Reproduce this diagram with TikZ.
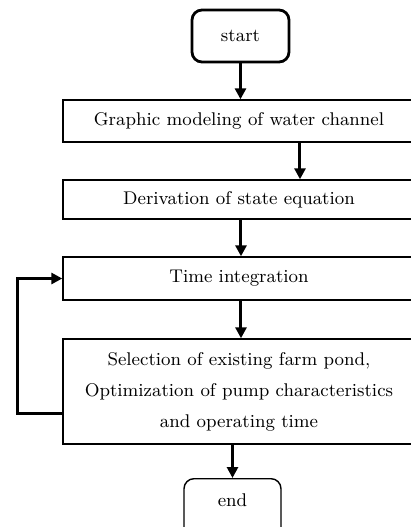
\documentclass[tikz,border=0pt]{standalone}
\usetikzlibrary{arrows.meta}
\begin{document}
\begin{tikzpicture}[
        x=0.5pt, y=-0.5pt,
        font=\fontsize{9.2}{15.5}\selectfont,
        term/.style = {draw, line width=1.4pt, rounded corners=5pt, minimum width=48.5pt, inner sep=0pt},
        stage/.style = {draw, line width=0.7pt, minimum width=176pt, inner sep=0pt, align=center},
        flow/.style = {line width=1.5pt, -{Triangle[length=5.5pt,width=5.5pt]}}
    ]
        \useasboundingbox (0,0) rectangle (411,527);
        \clip (0,0) rectangle (411,527);
        \node[term, minimum height=26pt] (start) at (240.5,36) {start};
        \node[stage, minimum height=21pt] (model) at (239,121) {Graphic modeling of water channel};
        \node[stage, minimum height=19.5pt] (deriv) at (239,199.5) {Derivation of state equation};
        \node[stage, minimum height=21.5pt] (integ) at (239,278.5) {Time integration};
        \node[stage, minimum height=52.5pt] (optim) at (239,391.5)
            {Selection of existing farm pond,\\ Optimization of pump characteristics\\ and operating time};
        \node[term, line width=0.7pt, minimum height=30pt, anchor=north] (end) at (232.5,478) {};
        \node (endlabel) at (232.5,500) {end};
        \coordinate (gd) at (300,0);
        \coordinate (dt) at (241,0);
        \coordinate (loopx) at (18,0);
        \coordinate (loopout) at (0,413);
        \draw[flow] (start.south) -- (start.south |- model.north);
        \draw[flow] (model.south -| gd) -- (deriv.north -| gd);
        \draw[flow] (deriv.south -| dt) -- (integ.north -| dt);
        \draw[flow] (integ.south -| dt) -- (optim.north -| dt);
        \draw[flow] (optim.south -| end.north) -- (end.north);
        \draw[flow] (optim.west |- loopout) -| (loopx |- integ.west) -- (integ.west);
    \end{tikzpicture}
\end{document}
